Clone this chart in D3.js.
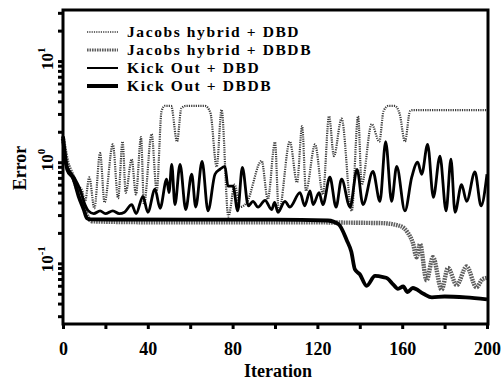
<!DOCTYPE html>
<html>
<head>
<meta charset="utf-8">
<script src="https://cdn.jsdelivr.net/npm/d3@7/dist/d3.min.js"></script>
<style>
  html, body { margin: 0; padding: 0; background: #fff; }
  svg text { font-family: "Liberation Serif", "Times New Roman", serif; font-weight: bold; fill: #000; }
</style>
</head>
<body>
<svg id="chart" width="502" height="387"></svg>
<script>
// ---- data (iteration, error) ----
const seriesNames = ["Jacobs hybrid + DBD", "Jacobs hybrid + DBDB", "Kick Out + DBD", "Kick Out + DBDB"];

const jacobsDBD = [
  [0,1.7],[2,1.0],[4,0.75],[6,0.6],[8.8,0.54],[10.4,0.41],[12.4,0.71],[14.8,0.35],
  [17.5,1.23],[19.6,0.4],[23.5,1.5],[26,0.44],[28.1,1.6],[29.6,0.5],[32.4,1.07],
  [34.4,0.48],[36.8,1.77],[38.2,0.38],[41.8,1.9],[44.2,0.52],[46.5,3.2],[48,3.6],
  [51,3.6],[53.8,1.6],[55.8,3.4],[58,3.6],[67,3.6],[69.5,3.1],[72.5,0.9],[74.8,3.3],
  [78,0.29],[81,0.6],[83.5,0.36],[86.7,0.4],[93.7,1.03],[96.6,0.43],[100,1.58],
  [101.8,0.32],[107,1.6],[110.4,0.63],[112.8,2.27],[114.6,0.52],[118.9,1.5],
  [122.6,0.48],[125.5,2.85],[127.8,1.15],[131.4,2.7],[136.2,0.33],[139.2,2.85],
  [140.9,0.6],[145.6,2.38],[149.2,1.6],[151.2,3.2],[153.5,3.6],[156.5,3.6],
  [158.8,3.0],[161.3,1.6],[163.7,3.2],[165,3.27],[200,3.27]
];

const jacobsDBDB = [
  [0,1.7],[2,1.0],[4,0.78],[6,0.6],[8,0.46],[10,0.35],[12,0.28],[14,0.26],
  [40,0.255],[100,0.255],[150,0.25],[159,0.234],[162.7,0.2],[165,0.16],
  [166.8,0.115],[168.4,0.155],[171.5,0.068],[174.5,0.115],[178.6,0.055],
  [181.6,0.09],[185.7,0.061],[190.4,0.093],[195,0.058],[198,0.07],[200,0.072]
];

const kickDBD = [
  [0,1.7],[1,1.0],[3.3,0.8],[5.7,0.68],[8,0.54],[10.4,0.38],[12,0.33],[14.5,0.31],
  [17.5,0.33],[20,0.31],[23.5,0.33],[26.5,0.31],[29,0.32],[32.4,0.38],[34.5,0.31],
  [37.7,0.46],[40,0.32],[43.4,0.54],[45.8,0.35],[48.9,0.68],[50,0.5],[51.3,0.95],
  [52.8,0.38],[55.2,0.95],[57.9,0.34],[60.7,0.76],[62.6,0.36],[65.6,1.02],
  [68.4,0.33],[71.7,0.76],[74,0.85],[76.4,0.91],[77.8,0.58],[80.2,0.58],[82.4,0.33],
  [84.6,0.89],[87.4,0.37],[89.6,0.41],[92,0.36],[95.3,0.42],[98.4,0.34],[99.8,0.4],
  [101.4,0.32],[104.7,0.41],[107,0.36],[111.8,0.5],[114,0.37],[116.5,0.52],
  [118,0.38],[120.8,0.5],[122.6,0.38],[125.9,0.71],[128.8,0.36],[131.4,0.68],
  [135.4,0.36],[138.7,0.85],[141.5,0.38],[146.2,0.81],[149.5,0.41],[152.2,1.6],
  [155,0.41],[157.4,0.91],[161.3,0.33],[164.5,0.71],[167.3,1.0],[169.2,0.76],
  [172,1.5],[174.7,0.45],[177.8,1.15],[180.7,0.33],[183,1.07],[184.9,0.32],
  [188,0.6],[190.4,0.41],[194.3,0.8],[197.2,0.37],[200,0.76]
];

const kickDBDB = [
  [0,1.8],[2,0.85],[5,0.68],[7.4,0.46],[9.8,0.34],[11.3,0.28],[13,0.272],
  [60,0.27],[100,0.27],[125,0.265],[130,0.243],[133.8,0.17],[136,0.13],
  [137.7,0.087],[140,0.078],[143.2,0.06],[147.2,0.075],[151,0.073],[153,0.071],
  [155.7,0.062],[158,0.056],[160.5,0.059],[162.5,0.052],[165,0.057],[170,0.05],
  [174,0.046],[180,0.047],[190,0.046],[200,0.044]
];

const xTicks = [0, 20, 40, 60, 80, 100, 120, 140, 160, 180, 200];
const xTickLabels = [0, 40, 80, 120, 160, 200];
const yDecades = [-1, 0, 1];

// ---- layout ----
const svg = d3.select("#chart");
const x = d3.scaleLinear().domain([0, 200]).range([63, 487]);
const y = d3.scaleLog().domain([Math.pow(10, -1.6), Math.pow(10, 1.505)]).range([324, 10]);

// minor/major log ticks
const yTickVals = [];
for (let k = -2; k <= 1; k++) {
  for (let m = 1; m <= 9; m++) {
    const v = m * Math.pow(10, k);
    if (v >= y.domain()[0] && v <= y.domain()[1]) yTickVals.push(v);
  }
}

// series lines
const line = d3.line().x(d => x(d[0])).y(d => y(d[1])).curve(d3.curveMonotoneX);

const styles = [
  { stroke: "#3a3a3a", width: 2.2, dash: "1.2,1.1" },
  { stroke: "#5e5e5e", width: 4.4, dash: "1.6,0.9" },
  { stroke: "#000", width: 2.8, dash: null },
  { stroke: "#000", width: 3.8, dash: null }
];
const data = [jacobsDBD, jacobsDBDB, kickDBD, kickDBDB];
const drawOrder = [1, 0, 2, 3];

const plot = svg.append("g");
drawOrder.forEach(i => {
  plot.append("path")
    .datum(data[i])
    .attr("fill", "none")
    .attr("stroke", styles[i].stroke)
    .attr("stroke-width", styles[i].width)
    .attr("stroke-dasharray", styles[i].dash)
    .attr("stroke-linejoin", "round")
    .attr("d", line);
});

// frame
svg.append("rect")
  .attr("x", x(0)).attr("y", y.range()[1])
  .attr("width", x(200) - x(0) + 1).attr("height", y.range()[0] - y.range()[1])
  .attr("fill", "none").attr("stroke", "#000").attr("stroke-width", 3);

// x axis
const xAxis = d3.axisBottom(x).tickValues(xTicks).tickSize(5)
  .tickFormat(d => xTickLabels.includes(d) ? d : "");
const gx = svg.append("g").attr("transform", `translate(0,${y.range()[0]})`).call(xAxis);
gx.select(".domain").remove();
gx.selectAll(".tick line").attr("stroke", "#000").attr("stroke-width", 3);
gx.selectAll(".tick text").attr("font-size", 18).attr("dy", "1.25em")
  .style("font-family", "'Liberation Serif', serif").style("font-weight", "bold");

// y axis (log ticks, custom rotated labels)
const yAxis = d3.axisLeft(y).tickValues(yTickVals).tickSize(5).tickFormat("");
const gy = svg.append("g").attr("transform", `translate(${x(0)},0)`).call(yAxis);
gy.select(".domain").remove();
gy.selectAll(".tick line").attr("stroke", "#000").attr("stroke-width", 3);

yDecades.forEach(k => {
  const t = svg.append("text")
    .attr("transform", `translate(53,${y(Math.pow(10, k)) + 9}) rotate(-90)`)
    .attr("font-size", 17);
  t.append("tspan").text("10");
  t.append("tspan").attr("font-size", 11).attr("dy", -8).text(String(k));
});

// axis titles
svg.append("text").attr("x", 278).attr("y", 377).attr("text-anchor", "middle")
  .attr("font-size", 18).text("Iteration");
svg.append("text").attr("transform", "translate(26,168) rotate(-90)")
  .attr("text-anchor", "middle").attr("font-size", 18).text("Error");

// legend
const legend = svg.append("g");
seriesNames.forEach((name, i) => {
  const ly = 32 + i * 18;
  legend.append("line")
    .attr("x1", 87).attr("x2", 118).attr("y1", ly).attr("y2", ly)
    .attr("stroke", styles[i].stroke)
    .attr("stroke-width", i === 0 ? 1.6 : (i === 1 ? 3 : (i === 2 ? 2 : 4)))
    .attr("stroke-dasharray", styles[i].dash);
  legend.append("text").attr("x", 127).attr("y", ly + 5)
    .attr("font-size", 15.5).attr("letter-spacing", 1.6).text(name);
});
</script>
</body>
</html>
